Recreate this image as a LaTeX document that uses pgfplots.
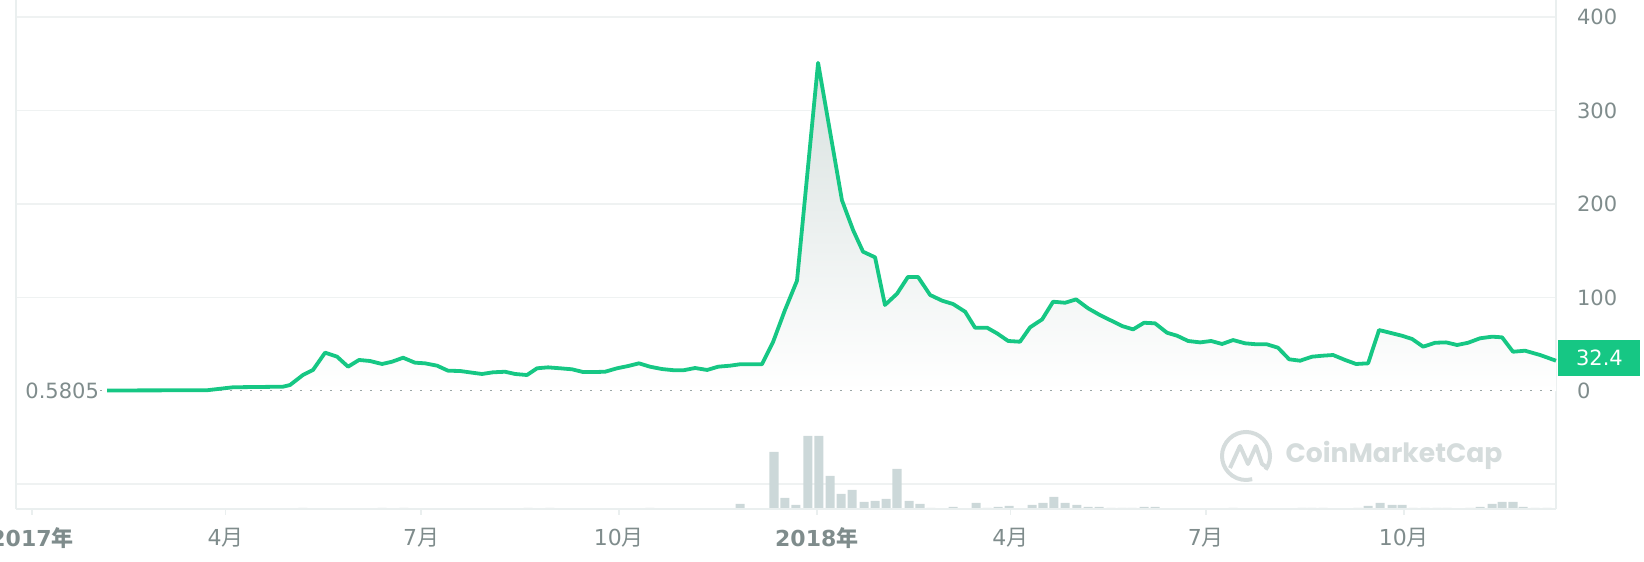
\documentclass[border=0pt]{standalone}
\usepackage{fontspec}
\setmainfont{DejaVu Sans}
\newfontfamily\cjk{Noto Sans CJK SC}
\newfontfamily\wm{Poppins}
\usepackage{pgfplots}
\usepackage{pgfplotstable}
\pgfplotsset{compat=1.18}
\definecolor{cmcgreen}{HTML}{16C784}
\definecolor{lbl}{HTML}{7F8C8C}
\definecolor{gridc}{HTML}{EFF2F2}
\definecolor{borderc}{HTML}{EAEFEF}
\definecolor{volc}{HTML}{CCD8D9}
\definecolor{wmc}{HTML}{D5DCDC}
\definecolor{dotc}{HTML}{9AA5A5}
\definecolor{areatop}{HTML}{D8E1DF}

\pgfplotstableread{
d v
34.9 0.58
81.4 0.8
93.5 4.0
116.7 4.6
120.0 6.4
126.0 17.1
130.7 22.5
136.3 41.0
141.9 36.7
147.0 26.0
152.1 33.2
157.2 32.1
162.8 28.9
167.4 31.3
172.6 35.6
178.1 30.3
182.8 29.6
188.4 27.1
193.5 21.7
199.1 21.4
204.7 19.6
209.3 18.2
214.4 20.0
220.0 20.6
224.7 18.2
230.2 17.1
234.9 24.3
240.0 25.3
245.6 24.3
251.2 23.2
256.3 20.3
261.4 20.3
266.5 20.6
272.1 24.3
277.2 26.7
282.3 29.6
287.4 26.0
293.0 23.5
298.1 22.3
302.8 22.1
308.4 24.6
314.0 22.5
319.1 26.0
324.7 27.1
329.3 28.6
334.9 28.6
339.5 28.6
344.7 52.7
350.2 86.6
355.8 118.0
365.6 351.0
376.7 204.0
381.9 172.0
386.5 149.0
392.1 143.0
396.7 92.0
402.3 104.0
407.4 122.0
412.1 122.0
417.7 102.7
423.3 96.6
428.4 93.0
434.0 84.8
438.6 67.7
444.2 67.7
448.8 61.7
454.0 53.5
459.5 52.7
464.2 68.1
469.8 76.6
474.9 95.5
480.5 94.4
485.6 98.0
491.2 88.4
496.7 81.2
501.4 75.9
507.0 69.5
512.1 65.9
517.2 73.0
522.3 72.4
527.9 62.3
532.6 59.1
537.7 53.5
543.3 52.0
548.4 53.5
553.5 50.3
558.6 54.5
564.2 51.0
569.8 49.9
574.4 49.9
579.5 46.3
584.7 33.9
589.8 32.4
595.3 36.7
600.5 37.8
605.1 38.5
610.7 33.2
615.8 28.9
621.4 29.6
626.5 65.2
631.6 62.3
637.2 59.1
641.9 55.6
647.0 47.4
652.6 51.6
657.7 52.0
662.8 49.2
667.9 51.6
673.5 56.4
679.1 58.1
683.7 57.4
688.8 42.0
694.4 43.1
701.4 38.5
708.8 32.4
}\price

\pgfplotstableread{
d vol
126.0 0.4
162.8 0.4
173.0 0.4
230.7 0.4
240.9 0.4
287.4 0.4
329.3 2.0
345.1 22.8
350.2 4.4
355.3 1.6
360.9 29.2
366.0 29.2
371.2 13.2
376.3 6.0
381.4 7.6
387.0 2.8
392.1 3.2
397.2 4.0
402.3 16.0
407.9 3.2
413.0 2.0
418.1 0.4
428.4 0.8
439.1 2.4
444.2 0.4
449.3 0.8
454.4 1.2
465.1 1.6
470.2 2.4
475.3 4.8
480.5 2.4
486.0 1.6
491.2 0.8
496.3 0.8
501.9 0.4
507.0 0.4
511.6 0.4
517.2 0.8
522.3 0.8
558.6 0.4
590.7 0.4
595.3 0.4
600.5 0.4
616.7 0.4
621.4 1.2
627.0 2.4
632.6 1.6
637.2 1.6
642.3 0.4
647.9 0.4
653.5 0.4
658.1 0.4
668.8 0.4
673.5 0.8
679.1 2.0
683.7 2.8
688.8 2.8
693.5 0.8
699.1 0.4
704.7 0.4
}\volume

\newcommand\yr[1]{\textbf{#1{\cjk 年}}}
\newcommand\mo[1]{#1{\cjk 月}}

\pgfplotsset{base/.style={scale only axis, width=770pt, height=254.5pt,
  xmin=-7.44, xmax=708.8, at={(8pt,26.5pt)}, anchor=south west}}

\begin{document}
\begin{tikzpicture}
% volume panel
\begin{axis}[base, ymin=0, ymax=203.6, hide axis]
\draw[gridc, line width=0.75pt] (axis cs:-7.44,10) -- (axis cs:708.8,10);
\addplot[ybar, bar width=4.2, fill=volc, draw=none] table[x=d,y=vol]{\volume};
\end{axis}
% price panel
\begin{axis}[base, ymin=-126.2, ymax=418.2,
  /pgf/number format/assume math mode=true,
  axis line style={draw=none},
  ytick={100,200,300,400}, extra y ticks={0},
  extra y tick style={grid=none},
  ymajorgrids, grid style={gridc, line width=0.75pt},
  yticklabel pos=right,
  yticklabel style={anchor=west, xshift=4pt, font=\fontsize{10.5}{12}\selectfont},
  ytick style={draw=none},
  xtick={0,90,181,273,365,455,546,638},
  xticklabels={\yr{2017},\mo{4},\mo{7},\mo{10},\yr{2018},\mo{4},\mo{7},\mo{10}},
  xtick pos=lower, tick align=outside, major tick length=3pt,
  xtick style={draw=borderc, line width=0.75pt},
  xticklabel style={anchor=center, yshift=-11.5pt, font=\fontsize{11}{13}\selectfont},
  tick label style={text=lbl},
  clip=false]
\draw[borderc, line width=0.8pt] (rel axis cs:0,0) -- (rel axis cs:0,1);
\draw[borderc, line width=0.8pt] (rel axis cs:1,0) -- (rel axis cs:1,1);
\draw[borderc, line width=1.4pt] (rel axis cs:0,0) -- (rel axis cs:1,0);
\addplot[draw=none, top color=areatop, bottom color=white] table[x=d,y=v]{\price} \closedcycle;
\draw[dotc, line width=0.9pt, dash pattern=on 0.8pt off 4.2pt] (axis cs:31.6,0.58) -- (axis cs:708.8,0.58);
\addplot[cmcgreen, line width=1.9pt, line join=round, mark=none] table[x=d,y=v]{\price};
\node[anchor=west, text=lbl, font=\fontsize{10.5}{12}\selectfont, inner sep=1pt] at (axis cs:-7.44,0.58) [xshift=3.5pt] {0.5805};
\node[anchor=west, fill=cmcgreen, text=white, minimum width=41pt, minimum height=18pt, inner sep=0pt, font=\fontsize{10.5}{12}\selectfont] at (axis cs:708.8,32.4) [xshift=1pt, yshift=1.3pt] {32.4};
\end{axis}
% watermark
\draw[wmc, line width=2pt] (623pt,53pt) ++(-35:12pt) arc[start angle=-35, end angle=285, radius=12pt];
\draw[wmc, line width=2pt, line join=round] (615pt,47pt) -- (620pt,58pt) -- (624pt,49pt) -- (628pt,58pt) -- (631pt,49pt) -- (634pt,47pt);
\node[wmc, font=\wm\bfseries\fontsize{13.3}{16}\selectfont, anchor=center] at (697pt,53.5pt) {CoinMarketCap};
\pgfresetboundingbox
\path[use as bounding box] (0,0) rectangle (822pt,281pt);
\end{tikzpicture}
\end{document}
